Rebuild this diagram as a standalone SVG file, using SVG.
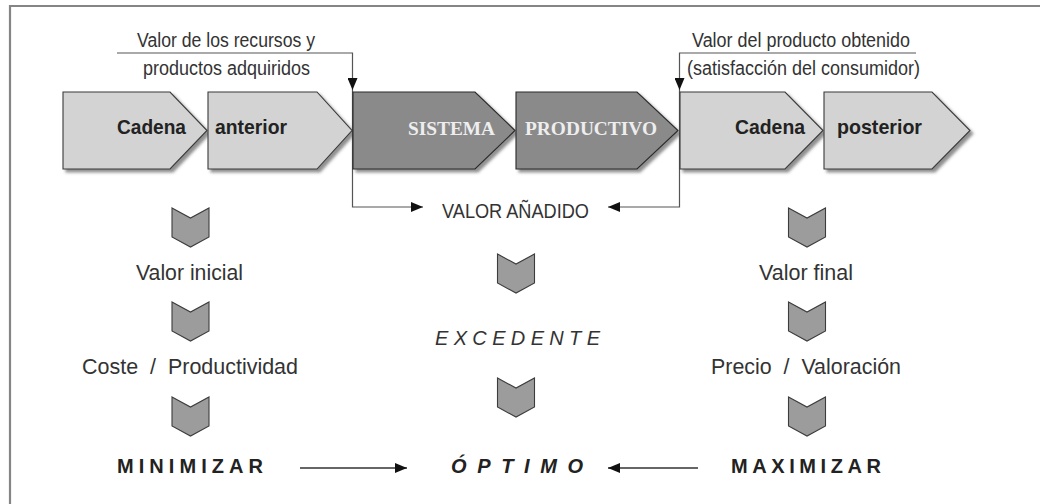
<svg xmlns="http://www.w3.org/2000/svg" xmlns:xlink="http://www.w3.org/1999/xlink" width="1040" height="504" viewBox="0 0 1040 504">
<style>
.frame{fill:none;stroke:#858585;stroke-width:2.2}
.light{fill:#d3d3d3;stroke:#3a3a3a;stroke-width:1.1;filter:url(#sh)}
.dark{fill:#8a8a8a;stroke:#2a2a2a;stroke-width:1.1;filter:url(#sh)}
.chev{fill:#9c9c9c;stroke:#3c3c3c;stroke-width:1.1}
.con{fill:none;stroke:#555;stroke-width:1.2}
.con2{fill:none;stroke:#333;stroke-width:1.5}
.lbl{font-family:"Liberation Sans",Arial,sans-serif;fill:#333}
.top{font-size:19.5px}
.mid{font-size:22.5px}
.exc{font-size:20px;font-style:italic}
.pb{font-family:"Liberation Sans",Arial,sans-serif;font-weight:bold;font-size:20.5px;fill:#222}
.ps{font-family:"Liberation Serif","Times New Roman",serif;font-weight:bold;font-size:19.5px;fill:#eeeeee}
.cap{font-family:"Liberation Sans",Arial,sans-serif;font-weight:bold;font-size:20px;fill:#222}
</style>
<defs>
<filter id="sh" x="-10%" y="-10%" width="130%" height="130%">
<feDropShadow dx="3" dy="3" stdDeviation="1.4" flood-color="#444" flood-opacity="0.6"/>
</filter>
<marker id="ah" viewBox="0 0 12 10" refX="12" refY="5" markerWidth="12" markerHeight="10" markerUnits="userSpaceOnUse" orient="auto">
<path d="M0,0 L12,5 L0,10 z" fill="#111"/>
</marker>
<polygon id="chv" points="-18.5,0 0,10 18.5,0 18.5,29 0,39 -18.5,29"/>
</defs>
<rect width="1040" height="504" fill="#fff"/>
<path class="frame" d="M10,504 V6 H1040"/>

<g id="connectors">
<path class="con" d="M117,53 H352.5 V90" marker-end="url(#ah)"/>
<path class="con" d="M352.5,90 V207 H423" marker-end="url(#ah)"/>
<path class="con" d="M916,53 H679.5 V90" marker-end="url(#ah)"/>
<path class="con" d="M679.5,90 V207 H608" marker-end="url(#ah)"/>
<path class="con2" d="M300,468 H407" marker-end="url(#ah)"/>
<path class="con2" d="M698,468 H608" marker-end="url(#ah)"/>
</g>

<g id="label-recursos">
<text class="lbl top" x="137" y="47" textLength="178" lengthAdjust="spacingAndGlyphs">Valor de los recursos y</text>
<text class="lbl top" x="143" y="75" textLength="167" lengthAdjust="spacingAndGlyphs">productos adquiridos</text>
</g>
<g id="label-producto">
<text class="lbl top" x="692" y="47" textLength="218" lengthAdjust="spacingAndGlyphs">Valor del producto obtenido</text>
<text class="lbl top" x="687" y="75" textLength="233" lengthAdjust="spacingAndGlyphs">(satisfacción del consumidor)</text>
</g>

<g id="cadena-anterior-1">
<polygon class="light" points="63,92 170,92 207,130.5 170,169 63,169"/>
<text class="pb" x="117" y="134" textLength="69" lengthAdjust="spacingAndGlyphs">Cadena</text>
</g>
<g id="cadena-anterior-2">
<polygon class="light" points="208,92 317,92 352,130.5 317,169 208,169"/>
<text class="pb" x="215" y="134" textLength="72" lengthAdjust="spacingAndGlyphs">anterior</text>
</g>
<g id="sistema">
<polygon class="dark" points="353,92 475,92 515,130.5 475,169 353,169"/>
<text class="ps" x="408" y="135" textLength="87" lengthAdjust="spacingAndGlyphs">SISTEMA</text>
</g>
<g id="productivo">
<polygon class="dark" points="516,92 637,92 678,130.5 637,169 516,169"/>
<text class="ps" x="525" y="135" textLength="132" lengthAdjust="spacingAndGlyphs">PRODUCTIVO</text>
</g>
<g id="cadena-posterior-1">
<polygon class="light" points="680,92 785,92 823,130.5 785,169 680,169"/>
<text class="pb" x="735" y="134" textLength="70" lengthAdjust="spacingAndGlyphs">Cadena</text>
</g>
<g id="cadena-posterior-2">
<polygon class="light" points="824,92 932,92 970,130.5 932,169 824,169"/>
<text class="pb" x="837" y="134" textLength="85" lengthAdjust="spacingAndGlyphs">posterior</text>
</g>

<g id="valor-anadido">
<text class="lbl top" x="442" y="218" textLength="147" lengthAdjust="spacingAndGlyphs">VALOR AÑADIDO</text>
</g>

<g id="left-column">
<use xlink:href="#chv" class="chev" x="190.5" y="208"/>
<text class="lbl mid" x="136" y="280" textLength="107" lengthAdjust="spacingAndGlyphs">Valor inicial</text>
<use xlink:href="#chv" class="chev" x="190.5" y="302"/>
<text class="lbl mid" x="82" y="374" textLength="216" lengthAdjust="spacingAndGlyphs" xml:space="preserve">Coste  /  Productividad</text>
<use xlink:href="#chv" class="chev" x="190.5" y="397"/>
<text class="cap" x="117" y="473" textLength="146" lengthAdjust="spacing">MINIMIZAR</text>
</g>

<g id="middle-column">
<use xlink:href="#chv" class="chev" x="516" y="254"/>
<text class="lbl exc" x="435" y="345" textLength="165" lengthAdjust="spacing">EXCEDENTE</text>
<use xlink:href="#chv" class="chev" x="516" y="378"/>
<text class="cap" x="451" y="473" font-style="italic" textLength="132" lengthAdjust="spacing">ÓPTIMO</text>
</g>

<g id="right-column">
<use xlink:href="#chv" class="chev" x="807" y="208"/>
<text class="lbl mid" x="759" y="280" textLength="94" lengthAdjust="spacingAndGlyphs">Valor final</text>
<use xlink:href="#chv" class="chev" x="807" y="302"/>
<text class="lbl mid" x="711" y="374" textLength="190" lengthAdjust="spacingAndGlyphs" xml:space="preserve">Precio  /  Valoración</text>
<use xlink:href="#chv" class="chev" x="807" y="397"/>
<text class="cap" x="731" y="473" textLength="150" lengthAdjust="spacing">MAXIMIZAR</text>
</g>
</svg>
